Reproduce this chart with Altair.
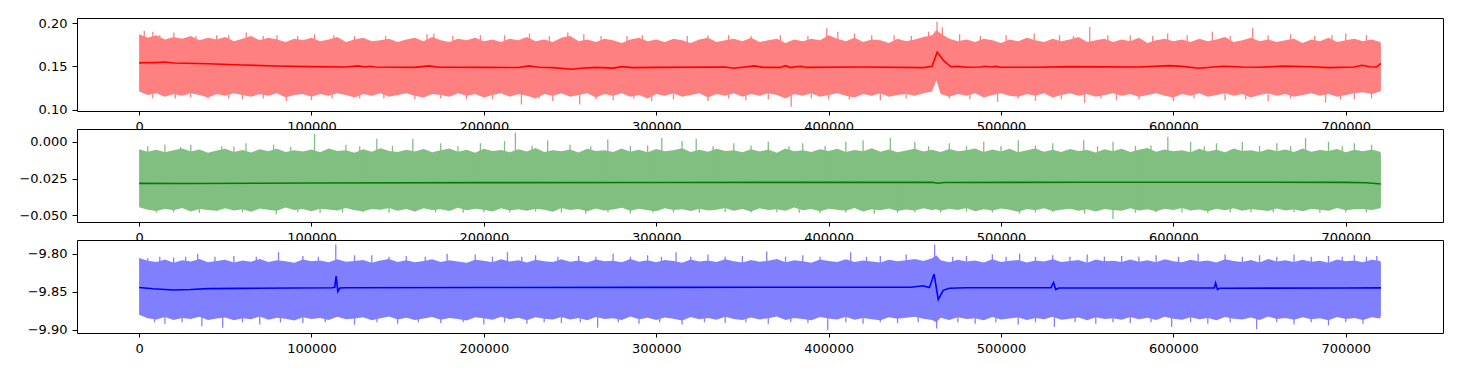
import altair as alt
import pandas as pd

# ---------------- shared x ----------------
XDOM = [-36020, 756420]
XTICKS = [0, 100000, 200000, 300000, 400000, 500000, 600000, 700000]
BAND_X = sorted(list(range(0, 720001, 5000)) + [462500, 720400])

# ---------------- panel 1 (red) ----------------
R_HI = [0.187, 0.183, 0.186, 0.181, 0.184, 0.182, 0.185, 0.180, 0.183, 0.181,
        0.184, 0.179, 0.182, 0.185, 0.180, 0.183, 0.181, 0.178, 0.182, 0.180,
        0.183, 0.179, 0.181, 0.184, 0.178, 0.181, 0.183, 0.179, 0.180, 0.182,
        0.178, 0.181, 0.183, 0.179, 0.184, 0.180, 0.178, 0.182, 0.180, 0.183,
        0.179, 0.181, 0.178, 0.182, 0.180, 0.184, 0.179, 0.181, 0.178, 0.183,
        0.185, 0.179, 0.181, 0.178, 0.182, 0.180, 0.177, 0.181, 0.183, 0.179,
        0.181, 0.178, 0.182, 0.180, 0.177, 0.181, 0.183, 0.178, 0.180, 0.182,
        0.179, 0.183, 0.178, 0.180, 0.182, 0.177, 0.181, 0.179, 0.182, 0.180,
        0.186, 0.182, 0.179, 0.183, 0.178, 0.181, 0.180, 0.177, 0.182, 0.179,
        0.181, 0.184, 0.186,
        0.192,
        0.188, 0.182, 0.179, 0.181, 0.178, 0.182, 0.180, 0.177, 0.181, 0.179,
        0.183, 0.180, 0.178, 0.182, 0.179, 0.181, 0.184, 0.178, 0.180, 0.182,
        0.178, 0.181, 0.179, 0.183, 0.177, 0.180, 0.182, 0.179, 0.181, 0.178,
        0.182, 0.179, 0.181, 0.184, 0.178, 0.180, 0.183, 0.179, 0.181, 0.178,
        0.180, 0.182, 0.177, 0.181, 0.179, 0.183, 0.178, 0.180, 0.182, 0.179,
        0.181, 0.178,
        0.176]
R_LO = [0.121, 0.117, 0.119, 0.115, 0.118, 0.116, 0.119, 0.117, 0.114, 0.118,
        0.116, 0.119, 0.117, 0.115, 0.118, 0.116, 0.119, 0.114, 0.117, 0.118,
        0.115, 0.118, 0.116, 0.119, 0.117, 0.114, 0.118, 0.116, 0.119, 0.115,
        0.117, 0.119, 0.116, 0.114, 0.118, 0.117, 0.115, 0.119, 0.116, 0.118,
        0.114, 0.117, 0.119, 0.115, 0.118, 0.116, 0.113, 0.118, 0.116, 0.119,
        0.115, 0.117, 0.119, 0.114, 0.118, 0.116, 0.119, 0.115, 0.117, 0.113,
        0.118, 0.116, 0.119, 0.115, 0.117, 0.119, 0.114, 0.118, 0.116, 0.119,
        0.115, 0.118, 0.116, 0.119, 0.117, 0.113, 0.118, 0.116, 0.119, 0.115,
        0.117, 0.119, 0.116, 0.114, 0.118, 0.116, 0.119, 0.115, 0.117, 0.118,
        0.116, 0.119, 0.121,
        0.134,
        0.118, 0.115, 0.118, 0.116, 0.119, 0.114, 0.117, 0.119, 0.116, 0.115,
        0.118, 0.116, 0.119, 0.114, 0.117, 0.119, 0.116, 0.118, 0.115, 0.117,
        0.119, 0.116, 0.118, 0.115, 0.117, 0.119, 0.116, 0.114, 0.118, 0.116,
        0.119, 0.115, 0.117, 0.119, 0.116, 0.118, 0.114, 0.117, 0.119, 0.116,
        0.118, 0.115, 0.117, 0.119, 0.116, 0.118, 0.115, 0.117, 0.119, 0.120,
        0.118, 0.121,
        0.123]
R_SPIKE_X = [3000, 8000, 12000, 20200, 33000, 45000, 52000, 62200, 72000, 80000,
             92000, 101800, 113000, 125000, 143000, 167000, 171000, 182000, 198000, 212000,
             226500, 238000, 248700, 258000, 268000, 283000, 292000, 318000, 330000, 342000,
             355000, 372000, 388000, 398900, 405300, 415000, 425000, 438000, 448000, 458000,
             462900, 466000, 476000, 488000, 503000, 519300, 534000, 542000, 551500, 562000,
             575000, 588000, 596700, 608000, 622600, 633000, 646000, 655000, 668000, 682000,
             692000, 700000, 712000,
             8000, 21000, 30000, 40000, 52000, 60000, 72000, 85500, 100000, 112000,
             128000, 142000, 160000, 175000, 190000, 205000, 221800, 232000, 240000, 255600,
             265000, 275000, 287000, 297400, 310000, 330000, 342000, 352000, 365000, 378300,
             390000, 400000, 412000, 430000, 445000, 470000, 482000, 498000, 510000, 520000,
             535000, 548500, 558000, 567000, 580000, 600000, 612000, 630000, 642000, 655000,
             668000, 688300, 697000, 705000, 715000]
R_SPIKE_Y = [0.191, 0.190, 0.186, 0.189, 0.185, 0.186, 0.186, 0.189, 0.185, 0.186,
             0.185, 0.187, 0.186, 0.185, 0.185, 0.187, 0.188, 0.185, 0.186, 0.186,
             0.188, 0.185, 0.189, 0.187, 0.185, 0.185, 0.186, 0.185, 0.186, 0.186,
             0.185, 0.186, 0.185, 0.194, 0.190, 0.188, 0.186, 0.186, 0.185, 0.190,
             0.2015, 0.195, 0.187, 0.185, 0.186, 0.188, 0.186, 0.185, 0.1955, 0.186,
             0.186, 0.185, 0.188, 0.186, 0.190, 0.185, 0.194, 0.186, 0.187, 0.185,
             0.186, 0.188, 0.186,
             0.113, 0.113, 0.114, 0.113, 0.113, 0.112, 0.113, 0.110, 0.111, 0.113,
             0.113, 0.113, 0.112, 0.113, 0.112, 0.112, 0.106, 0.113, 0.110, 0.106,
             0.112, 0.111, 0.113, 0.110, 0.112, 0.110, 0.113, 0.111, 0.112, 0.1035,
             0.113, 0.112, 0.112, 0.111, 0.113, 0.113, 0.112, 0.109, 0.113, 0.110,
             0.112, 0.108, 0.113, 0.111, 0.112, 0.110, 0.113, 0.111, 0.112, 0.110,
             0.113, 0.108, 0.112, 0.112, 0.113]
R_CENTER = 0.150
R_MEAN_X = [0, 5000, 10000, 15000, 20000, 40000, 60000, 80000, 100000, 120000,
            127000, 131000, 134000, 137000, 160000, 168000, 174000, 200000, 220000, 226000,
            232000, 240000, 251000, 256000, 265000, 275000, 280000, 286000, 300000, 340000,
            345000, 350000, 357000, 362000, 372000, 375000, 378000, 381000, 384000, 387000,
            420000, 455000, 460000, 463000, 467000, 471000, 475000, 480000, 488000, 491000,
            494000, 497000, 500000, 520000, 540000, 580000, 598000, 605000, 615000, 625000,
            629000, 640000, 650000, 664000, 680000, 690000, 705000, 709500, 714000, 718000,
            720400]
R_MEAN_Y = [0.1540, 0.1545, 0.1543, 0.1550, 0.1538, 0.1530, 0.1515, 0.1505, 0.1497, 0.1493,
            0.1505, 0.1493, 0.1502, 0.1492, 0.1488, 0.1505, 0.1490, 0.1488, 0.1487, 0.1505,
            0.1490, 0.1485, 0.1467, 0.1478, 0.1488, 0.1480, 0.1497, 0.1485, 0.1488, 0.1493,
            0.1478, 0.1490, 0.1505, 0.1488, 0.1488, 0.1508, 0.1486, 0.1495, 0.1502, 0.1488,
            0.1492, 0.1485, 0.1500, 0.1664, 0.1560, 0.1495, 0.1500, 0.1490, 0.1493, 0.1502,
            0.1492, 0.1500, 0.1490, 0.1490, 0.1497, 0.1492, 0.1508, 0.1500, 0.1478, 0.1495,
            0.1502, 0.1492, 0.1490, 0.1503, 0.1495, 0.1485, 0.1493, 0.1512, 0.1495, 0.1492,
            0.1535]
R_YDOM = [0.0985, 0.2058]
R_YTICKS = [0.10, 0.15, 0.20]

# ---------------- panel 2 (green) ----------------
G_HI = [-0.0050, -0.0068, -0.0055, -0.0072, -0.0058, -0.0045, -0.0066, -0.0052, -0.0074, -0.0060,
        -0.0048, -0.0069, -0.0056, -0.0073, -0.0051, -0.0064, -0.0047, -0.0070, -0.0058, -0.0066,
        -0.0053, -0.0071, -0.0046, -0.0063, -0.0057, -0.0075, -0.0050, -0.0067, -0.0044, -0.0062,
        -0.0070, -0.0054, -0.0066, -0.0049, -0.0072, -0.0058, -0.0045, -0.0068, -0.0055, -0.0074,
        -0.0047, -0.0063, -0.0056, -0.0071, -0.0050, -0.0066, -0.0043, -0.0069, -0.0057, -0.0064,
        -0.0052, -0.0073, -0.0048, -0.0062, -0.0058, -0.0070, -0.0045, -0.0067, -0.0054, -0.0072,
        -0.0049, -0.0065, -0.0057, -0.0044, -0.0070, -0.0055, -0.0068, -0.0047, -0.0063, -0.0058,
        -0.0071, -0.0050, -0.0066, -0.0053, -0.0074, -0.0046, -0.0064, -0.0058, -0.0069, -0.0051,
        -0.0062, -0.0048, -0.0070, -0.0056, -0.0065, -0.0044, -0.0068, -0.0053, -0.0072, -0.0059,
        -0.0047, -0.0066, -0.0055,
        -0.0062,
        -0.0070, -0.0049, -0.0064, -0.0057, -0.0045, -0.0069, -0.0053, -0.0066, -0.0048, -0.0072,
        -0.0058, -0.0046, -0.0067, -0.0054, -0.0070, -0.0049, -0.0063, -0.0056, -0.0073, -0.0050,
        -0.0065, -0.0047, -0.0069, -0.0055, -0.0043, -0.0068, -0.0052, -0.0064, -0.0058, -0.0071,
        -0.0048, -0.0066, -0.0054, -0.0072, -0.0046, -0.0063, -0.0057, -0.0069, -0.0050, -0.0065,
        -0.0053, -0.0070, -0.0045, -0.0067, -0.0056, -0.0062, -0.0049, -0.0071, -0.0055, -0.0064,
        -0.0052, -0.0068,
        -0.0080]
G_LO = [-0.0445, -0.0462, -0.0471, -0.0455, -0.0466, -0.0450, -0.0474, -0.0458, -0.0464, -0.0469,
        -0.0452, -0.0467, -0.0459, -0.0476, -0.0454, -0.0463, -0.0470, -0.0448, -0.0465, -0.0457,
        -0.0472, -0.0456, -0.0461, -0.0468, -0.0451, -0.0466, -0.0473, -0.0457, -0.0463, -0.0450,
        -0.0469, -0.0458, -0.0475, -0.0453, -0.0464, -0.0460, -0.0471, -0.0449, -0.0466, -0.0456,
        -0.0462, -0.0474, -0.0452, -0.0467, -0.0459, -0.0470, -0.0455, -0.0463, -0.0477, -0.0451,
        -0.0465, -0.0458, -0.0472, -0.0454, -0.0468, -0.0461, -0.0449, -0.0470, -0.0456, -0.0466,
        -0.0473, -0.0452, -0.0464, -0.0459, -0.0471, -0.0455, -0.0467, -0.0462, -0.0450, -0.0469,
        -0.0457, -0.0474, -0.0453, -0.0465, -0.0460, -0.0470, -0.0448, -0.0466, -0.0458, -0.0472,
        -0.0455, -0.0463, -0.0469, -0.0451, -0.0475, -0.0459, -0.0466, -0.0454, -0.0471, -0.0461,
        -0.0467, -0.0453, -0.0464,
        -0.0460,
        -0.0470, -0.0456, -0.0465, -0.0451, -0.0473, -0.0460, -0.0467, -0.0454, -0.0462, -0.0476,
        -0.0458, -0.0466, -0.0452, -0.0471, -0.0463, -0.0455, -0.0469, -0.0460, -0.0474, -0.0457,
        -0.0464, -0.0470, -0.0453, -0.0467, -0.0459, -0.0472, -0.0456, -0.0465, -0.0450, -0.0468,
        -0.0461, -0.0473, -0.0455, -0.0466, -0.0452, -0.0470, -0.0458, -0.0464, -0.0471, -0.0454,
        -0.0467, -0.0459, -0.0473, -0.0456, -0.0463, -0.0469, -0.0451, -0.0466, -0.0460, -0.0457,
        -0.0464, -0.0452,
        -0.0440]
G_SPIKE_X = [5000, 15000, 24000, 30000, 48000, 55000, 62000, 78000, 88000, 101800,
             120000, 128000, 137900, 147000, 158800, 175000, 185000, 198000, 212000, 218300,
             228000, 237000, 250000, 262000, 271900, 285000, 295000, 303200, 315000, 323200,
             333000, 345000, 355000, 365000, 377000, 385000, 398000, 410000, 420000, 435800,
             450000, 458000, 470000, 480000, 490000, 500000, 510000, 520000, 530000, 548000,
             556000, 565000, 578000, 587000, 596800, 610000, 618000, 625000, 640000, 650000,
             660000, 668000, 676700, 690000, 698000, 705000, 715000,
             10000, 20000, 35000, 45000, 60000, 79600, 92000, 105000, 118000, 130000,
             145000, 160000, 172000, 188000, 200000, 215000, 230000, 245000, 259100, 272000,
             285000, 298000, 310000, 325000, 340000, 355000, 370000, 383000, 395000, 410000,
             426500, 440000, 450000, 465000, 480000, 495000, 510800, 520000, 530000, 548500,
             565000, 578000, 590000, 605000, 620000, 633000, 645000, 658000, 670000, 685000,
             700000, 712000]
G_SPIKE_Y = [-0.0030, -0.0020, -0.0035, -0.0020, -0.0030, -0.0032, -0.0010, -0.0020, -0.0034, 0.0055,
             -0.0020, -0.0030, 0.0021, -0.0028, 0.0021, -0.0010, -0.0030, -0.0010, 0.0005, 0.0062,
             -0.0025, 0.0010, -0.0020, -0.0030, 0.0015, -0.0028, -0.0025, 0.0025, 0.0005, 0.0021,
             -0.0030, -0.0010, -0.0025, 0.0000, -0.0030, -0.0010, -0.0028, 0.0000, 0.0010, 0.0025,
             0.0000, -0.0030, -0.0010, -0.0028, 0.0000, -0.0030, 0.0010, -0.0025, -0.0010, 0.0010,
             -0.0030, 0.0000, -0.0028, -0.0025, 0.0035, 0.0000, -0.0030, -0.0010, 0.0000, -0.0028,
             -0.0010, -0.0030, 0.0025, 0.0000, -0.0030, -0.0010, -0.0020,
             -0.0482, -0.0480, -0.0483, -0.0470, -0.0481, -0.0493, -0.0480, -0.0485, -0.0482, -0.0480,
             -0.0483, -0.0475, -0.0481, -0.0483, -0.0480, -0.0482, -0.0475, -0.0481, -0.0490, -0.0482,
             -0.0488, -0.0481, -0.0480, -0.0483, -0.0478, -0.0481, -0.0480, -0.0483, -0.0485, -0.0481,
             -0.0490, -0.0482, -0.0480, -0.0481, -0.0475, -0.0482, -0.0490, -0.0481, -0.0478, -0.0490,
             -0.0525, -0.0482, -0.0480, -0.0481, -0.0485, -0.0482, -0.0480, -0.0481, -0.0478, -0.0483,
             -0.0482, -0.0481]
G_CENTER = -0.028
G_MEAN_X = [0, 30000, 100000, 200000, 300000, 400000, 460000, 463500, 467000, 550000,
            650000, 700000, 712000, 720400]
G_MEAN_Y = [-0.0283, -0.0284, -0.0281, -0.0278, -0.0277, -0.0276, -0.0276, -0.0282, -0.0277, -0.0275,
            -0.0275, -0.0276, -0.0279, -0.0287]
G_YDOM = [-0.0546, 0.0087]
G_YTICKS = [-0.050, -0.025, 0.000]

# ---------------- panel 3 (blue) ----------------
B_HI = [-9.8055, -9.8092, -9.8108, -9.8075, -9.8118, -9.8086, -9.8102, -9.8070, -9.8112, -9.8095,
        -9.8080, -9.8115, -9.8090, -9.8104, -9.8068, -9.8110, -9.8085, -9.8098, -9.8120, -9.8076,
        -9.8100, -9.8088, -9.8113, -9.8072, -9.8105, -9.8094, -9.8082, -9.8117, -9.8090, -9.8069,
        -9.8107, -9.8084, -9.8112, -9.8096, -9.8074, -9.8109, -9.8087, -9.8101, -9.8119, -9.8078,
        -9.8093, -9.8111, -9.8071, -9.8103, -9.8086, -9.8115, -9.8079, -9.8098, -9.8108, -9.8073,
        -9.8106, -9.8089, -9.8116, -9.8077, -9.8100, -9.8092, -9.8113, -9.8070, -9.8104, -9.8085,
        -9.8111, -9.8081, -9.8097, -9.8118, -9.8075, -9.8102, -9.8088, -9.8109, -9.8072, -9.8099,
        -9.8114, -9.8083, -9.8106, -9.8091, -9.8069, -9.8112, -9.8087, -9.8100, -9.8117, -9.8076,
        -9.8095, -9.8108, -9.8073, -9.8110, -9.8089, -9.8101, -9.8116, -9.8079, -9.8098, -9.8084,
        -9.8070, -9.8095, -9.8060,
        -9.8020,
        -9.8085, -9.8112, -9.8078, -9.8101, -9.8090, -9.8116, -9.8074, -9.8107, -9.8093, -9.8081,
        -9.8114, -9.8088, -9.8103, -9.8071, -9.8110, -9.8096, -9.8083, -9.8118, -9.8077, -9.8100,
        -9.8092, -9.8109, -9.8075, -9.8105, -9.8086, -9.8113, -9.8072, -9.8099, -9.8111, -9.8080,
        -9.8103, -9.8089, -9.8116, -9.8074, -9.8097, -9.8108, -9.8082, -9.8114, -9.8070, -9.8101,
        -9.8087, -9.8110, -9.8079, -9.8104, -9.8093, -9.8117, -9.8076, -9.8100, -9.8089, -9.8112,
        -9.8078, -9.8096,
        -9.8120]
B_LO = [-9.8800, -9.8848, -9.8862, -9.8830, -9.8871, -9.8842, -9.8855, -9.8826, -9.8868, -9.8850,
        -9.8836, -9.8873, -9.8845, -9.8859, -9.8822, -9.8866, -9.8840, -9.8853, -9.8877, -9.8832,
        -9.8857, -9.8843, -9.8869, -9.8828, -9.8861, -9.8849, -9.8835, -9.8874, -9.8846, -9.8824,
        -9.8863, -9.8839, -9.8870, -9.8851, -9.8829, -9.8865, -9.8842, -9.8856, -9.8876, -9.8833,
        -9.8848, -9.8867, -9.8827, -9.8860, -9.8841, -9.8872, -9.8834, -9.8854, -9.8864, -9.8830,
        -9.8862, -9.8844, -9.8873, -9.8831, -9.8857, -9.8847, -9.8870, -9.8825, -9.8859, -9.8840,
        -9.8868, -9.8836, -9.8852, -9.8875, -9.8830, -9.8858, -9.8843, -9.8866, -9.8827, -9.8855,
        -9.8871, -9.8838, -9.8862, -9.8846, -9.8823, -9.8869, -9.8842, -9.8857, -9.8874, -9.8831,
        -9.8850, -9.8864, -9.8828, -9.8867, -9.8844, -9.8858, -9.8873, -9.8834, -9.8853, -9.8839,
        -9.8826, -9.8852, -9.8870,
        -9.8900,
        -9.8840, -9.8868, -9.8833, -9.8857, -9.8846, -9.8872, -9.8829, -9.8863, -9.8849, -9.8836,
        -9.8870, -9.8843, -9.8859, -9.8826, -9.8866, -9.8852, -9.8838, -9.8874, -9.8832, -9.8856,
        -9.8847, -9.8865, -9.8830, -9.8861, -9.8841, -9.8869, -9.8827, -9.8854, -9.8867, -9.8835,
        -9.8858, -9.8844, -9.8872, -9.8829, -9.8853, -9.8864, -9.8837, -9.8870, -9.8825, -9.8856,
        -9.8842, -9.8866, -9.8834, -9.8860, -9.8848, -9.8873, -9.8831, -9.8855, -9.8844, -9.8868,
        -9.8833, -9.8850,
        -9.8800]
B_SPIKE_X = [5000, 12000, 20000, 27000, 34000, 44000, 55000, 68000, 80900, 95000,
             104000, 114100, 125000, 135000, 145000, 155000, 166000, 178700, 195000, 205000,
             213700, 222000, 230000, 243000, 255000, 265000, 275000, 285000, 295000, 303000,
             311500, 320000, 330000, 340000, 350000, 364100, 375000, 385000, 395000, 412800,
             422000, 430000, 445000, 461500, 472000, 480000, 495000, 503000, 510800, 520000,
             530000, 540000, 550000, 560000, 570000, 580000, 590000, 603000, 614400, 630000,
             640000, 650000, 660000, 670000, 680000, 690000, 698000, 705000, 712000, 718000,
             9000, 15000, 25000, 36400, 48500, 60000, 70000, 82000, 95000, 108000,
             125000, 138000, 150000, 162000, 175000, 188000, 200000, 212000, 225000, 235000,
             245000, 256000, 266000, 278000, 290000, 302000, 315000, 328000, 340000, 352000,
             365000, 378000, 388000, 399500, 410000, 420000, 430000, 440000, 452000, 462700,
             475000, 485000, 497000, 510000, 520000, 531000, 543000, 555000, 565000, 575000,
             587000, 599000, 610000, 620000, 633000, 648300, 660000, 670000, 680000, 690000,
             700000, 710000]
B_SPIKE_Y = [-9.806, -9.804, -9.805, -9.804, -9.800, -9.804, -9.803, -9.804, -9.798, -9.803,
             -9.804, -9.788, -9.802, -9.802, -9.804, -9.803, -9.804, -9.800, -9.801, -9.804,
             -9.798, -9.804, -9.802, -9.804, -9.803, -9.804, -9.800, -9.804, -9.802, -9.804,
             -9.798, -9.804, -9.801, -9.804, -9.803, -9.797, -9.804, -9.802, -9.804, -9.798,
             -9.804, -9.803, -9.801, -9.788, -9.804, -9.803, -9.801, -9.804, -9.800, -9.804,
             -9.802, -9.804, -9.801, -9.804, -9.803, -9.804, -9.802, -9.804, -9.800, -9.801,
             -9.804, -9.802, -9.804, -9.801, -9.804, -9.803, -9.804, -9.802, -9.804, -9.803,
             -9.890, -9.892, -9.890, -9.895, -9.897, -9.890, -9.893, -9.890, -9.891, -9.890,
             -9.893, -9.890, -9.892, -9.890, -9.891, -9.890, -9.893, -9.890, -9.892, -9.890,
             -9.891, -9.890, -9.897, -9.890, -9.892, -9.890, -9.893, -9.890, -9.891, -9.890,
             -9.892, -9.890, -9.891, -9.900, -9.890, -9.892, -9.890, -9.891, -9.890, -9.898,
             -9.890, -9.892, -9.890, -9.893, -9.890, -9.896, -9.890, -9.892, -9.890, -9.891,
             -9.890, -9.896, -9.890, -9.892, -9.890, -9.899, -9.890, -9.893, -9.890, -9.894,
             -9.890, -9.892]
B_CENTER = -9.845
B_MEAN_X = [0, 8000, 20000, 30000, 40000, 60000, 90000, 112000, 113500, 114300,
            115300, 116500, 120000, 200000, 300000, 400000, 448000, 454600, 458500, 461200,
            463600, 466500, 470000, 480000, 529000, 530500, 531800, 533500, 600000, 623800,
            624500, 625600, 627000, 700000, 720400]
B_MEAN_Y = [-9.8443, -9.8460, -9.8475, -9.8470, -9.8458, -9.8455, -9.8450, -9.8447, -9.8440, -9.8293,
            -9.8495, -9.8450, -9.8446, -9.8443, -9.8442, -9.8440, -9.8440, -9.8421, -9.8445, -9.8267,
            -9.8600, -9.8480, -9.8452, -9.8446, -9.8446, -9.8380, -9.8470, -9.8450, -9.8450, -9.8448,
            -9.8385, -9.8470, -9.8452, -9.8450, -9.8448]
B_YDOM = [-9.904, -9.782]
B_YTICKS = [-9.90, -9.85, -9.80]

PLOT_W = 1366
PLOT_H = 93


def panel(hi, lo, sx, sy, center, mx, my, ydom, yticks, yfmt, band_color, line_color):
    band_df = pd.DataFrame({"x": BAND_X, "hi": hi, "lo": lo})
    spike_df = pd.DataFrame({"x": sx, "v": sy, "c": [center] * len(sx)})
    mean_df = pd.DataFrame({"x": mx, "m": my})
    xs = alt.Scale(domain=XDOM, nice=False, zero=False)
    xa = alt.Axis(values=XTICKS, format="d", title=None, tickSize=4, labelPadding=5)
    ys = alt.Scale(domain=ydom, nice=False, zero=False)
    ya = alt.Axis(values=yticks, format=yfmt, title=None, tickSize=5, labelPadding=5)
    area = alt.Chart(band_df).mark_area(color=band_color, opacity=1, interpolate="linear").encode(
        x=alt.X("x:Q", scale=xs, axis=xa),
        y=alt.Y("lo:Q", scale=ys, axis=ya),
        y2="hi:Q",
    )
    rules = alt.Chart(spike_df).mark_rule(color=band_color, strokeWidth=1.3).encode(
        x=alt.X("x:Q", scale=xs, axis=xa),
        y=alt.Y("v:Q", scale=ys, axis=ya),
        y2="c:Q",
    )
    line = alt.Chart(mean_df).mark_line(color=line_color, strokeWidth=1.6).encode(
        x=alt.X("x:Q", scale=xs, axis=xa),
        y=alt.Y("m:Q", scale=ys, axis=ya),
    )
    return alt.layer(area, rules, line).properties(width=PLOT_W, height=PLOT_H)


p1 = panel(R_HI, R_LO, R_SPIKE_X, R_SPIKE_Y, R_CENTER, R_MEAN_X, R_MEAN_Y,
           R_YDOM, R_YTICKS, ".2f", "#ff8080", "#ff0000")
p2 = panel(G_HI, G_LO, G_SPIKE_X, G_SPIKE_Y, G_CENTER, G_MEAN_X, G_MEAN_Y,
           G_YDOM, G_YTICKS, ".3f", "#80bf80", "#008000")
p3 = panel(B_HI, B_LO, B_SPIKE_X, B_SPIKE_Y, B_CENTER, B_MEAN_X, B_MEAN_Y,
           B_YDOM, B_YTICKS, ".2f", "#8080ff", "#0000ff")

chart = alt.vconcat(p1, p2, p3, spacing=18, bounds="flush").configure_view(
    stroke="black", strokeWidth=1, fill="white"
).configure_axis(
    labelFont="DejaVu Sans", labelFontSize=13, labelColor="black",
    tickColor="black", tickWidth=1, domain=False, grid=False,
).properties(
    padding={"left": 10, "top": 8, "right": 5, "bottom": 5},
    background="white",
)

chart.save("out.html", embed_options={"renderer": "svg", "actions": False})
